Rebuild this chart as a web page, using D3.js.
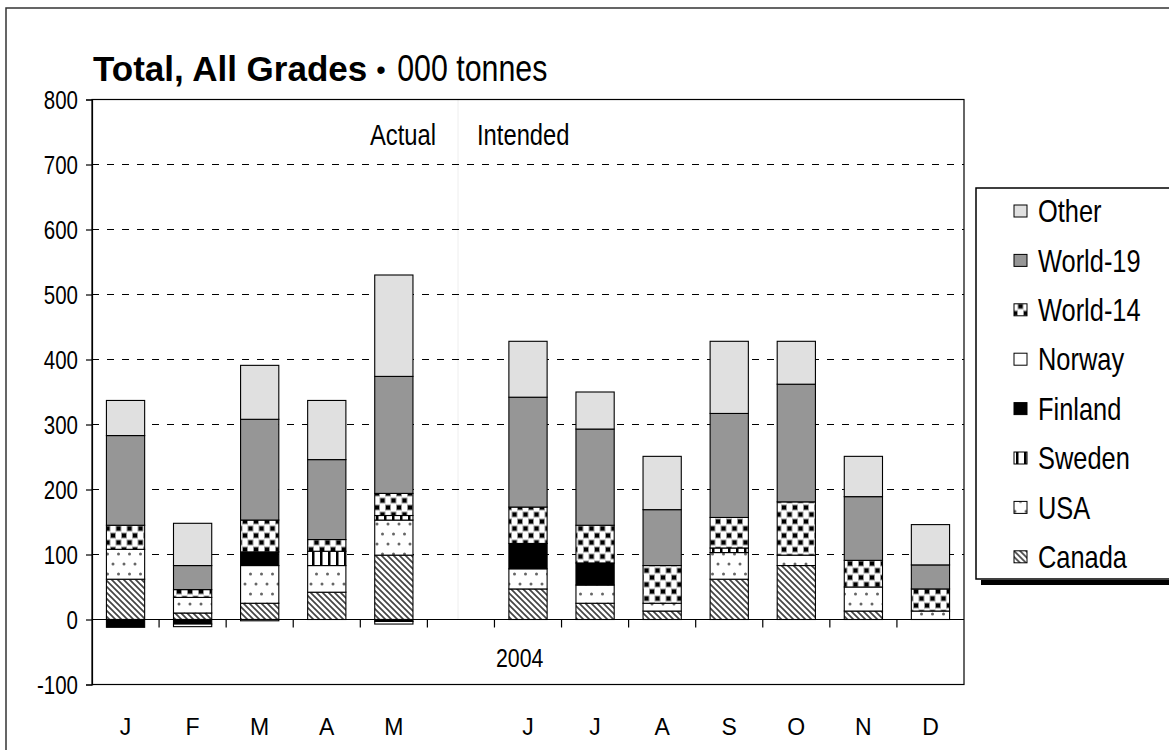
<!DOCTYPE html>
<html>
<head>
<meta charset="utf-8">
<script src="https://cdn.jsdelivr.net/npm/d3@7/dist/d3.min.js"></script>
<style>
  html, body { margin: 0; padding: 0; background: #fff; }
  svg { display: block; }
</style>
</head>
<body>
<svg id="chart" width="1169" height="750"></svg>
<script>
// ---- data ----
const months = ["J", "F", "M", "A", "M", "", "J", "J", "A", "S", "O", "N", "D"];
const seriesNames = ["Canada", "USA", "Sweden", "Finland", "Norway", "World-14", "World-19", "Other"];
const canada  = [62, 10, 25, 42, 99, 0, 47, 25, 13, 62, 83, 13, 0];
const usa     = [46, 24, 58, 41, 54, 0, 31, 28, 12, 41, 16, 37, 13];
const sweden  = [0, 0, 0, 22, 7, 0, 0, 0, 0, 7, 0, 0, 0];
const finland = [-12, -7, 21, 0, -3, 0, 39, 34, 0, 0, 0, 0, 0];
const norway  = [0, -4, -2, 0, -4, 0, 0, 0, 0, 0, 0, 0, 0];
const world14 = [37, 12, 49, 18, 34, 0, 56, 58, 58, 47, 82, 41, 34];
const world19 = [138, 37, 155, 123, 180, 0, 169, 148, 86, 160, 181, 98, 37];
const other   = [54, 65, 83, 91, 156, 0, 86, 57, 82, 111, 66, 62, 62];
const yTicks = [-100, 0, 100, 200, 300, 400, 500, 600, 700, 800];
const gridValues = [100, 200, 300, 400, 500, 600, 700];
const titleMain = "Total, All Grades";
const titleUnit = "000 tonnes";
const yearLabel = "2004";
const actualLabel = "Actual";
const intendedLabel = "Intended";

const seriesValues = [canada, usa, sweden, finland, norway, world14, world19, other];
const table = months.map((m, i) => {
  const row = { idx: i };
  seriesNames.forEach((s, k) => row[s] = seriesValues[k][i]);
  return row;
});

// ---- setup ----
const svg = d3.select("#chart");
const font = '"Liberation Sans", Arial, Helvetica, sans-serif';
const NARROW = 0.82;   // horizontal squeeze to mimic a condensed face

function narrowText(sel, px, py) {
  return sel.attr("font-family", font)
    .attr("transform", `translate(${px},${py}) scale(${NARROW},1)`);
}

const pLeft = 92, pRight = 964, pTop = 99.5, pBottom = 684.5;
const x = d3.scaleBand().domain(d3.range(months.length)).range([pLeft, pRight]).paddingInner(0).paddingOuter(0);
const y = d3.scaleLinear().domain([-100, 800]).range([pBottom, pTop]);
const barW = x.bandwidth() * 0.57;

// ---- patterns ----
const defs = svg.append("defs");
function pat(id, w, h, build) {
  const p = defs.append("pattern").attr("id", id).attr("patternUnits", "userSpaceOnUse")
    .attr("width", w).attr("height", h);
  p.append("rect").attr("width", w).attr("height", h).attr("fill", "#fff");
  build(p);
}
pat("p-canada", 6, 6, p => {
  p.append("path").attr("d", "M0,0 L6,6 M-1,5 L1,7 M5,-1 L7,1")
    .attr("stroke", "#444").attr("stroke-width", 1.7);
});
pat("p-usa", 11, 20, p => {
  p.append("circle").attr("cx", 3).attr("cy", 4).attr("r", 1.5).attr("fill", "#666");
  p.append("circle").attr("cx", 8.5).attr("cy", 14).attr("r", 1.5).attr("fill", "#666");
});
pat("p-sweden", 8, 8, p => {
  p.append("rect").attr("x", 0).attr("y", 0).attr("width", 2.5).attr("height", 8).attr("fill", "#000");
});
pat("p-w14", 11, 14, p => {
  p.append("rect").attr("x", 0).attr("y", 0.5).attr("width", 6).attr("height", 6).attr("fill", "#999");
  p.append("rect").attr("x", 5.5).attr("y", 7.5).attr("width", 6).attr("height", 6).attr("fill", "#999");
  p.append("rect").attr("x", -5.5).attr("y", 7.5).attr("width", 6).attr("height", 6).attr("fill", "#999");
  p.append("rect").attr("x", 1).attr("y", 1.5).attr("width", 4).attr("height", 4).attr("fill", "#000");
  p.append("rect").attr("x", 6.5).attr("y", 8.5).attr("width", 4).attr("height", 4).attr("fill", "#000");
});
const fills = {
  "Canada": "url(#p-canada)",
  "USA": "url(#p-usa)",
  "Sweden": "url(#p-sweden)",
  "Finland": "#000",
  "Norway": "#fff",
  "World-14": "url(#p-w14)",
  "World-19": "#969696",
  "Other": "#e0e0e0"
};

// ---- outer frame ----
svg.append("rect").attr("x", 6).attr("y", 8).attr("width", 1200).attr("height", 800)
  .attr("fill", "none").attr("stroke", "#333").attr("stroke-width", 1.5);

// ---- title ----
const tMain = svg.append("text").attr("x", 93).attr("y", 81)
  .attr("font-family", font).attr("font-weight", "bold").attr("font-size", 35)
  .text(titleMain);
const mainEnd = 93 + tMain.node().getComputedTextLength();
svg.append("text").attr("x", mainEnd + 9).attr("y", 79)
  .attr("font-family", font).attr("font-size", 27).text("\u2022");
narrowText(svg.append("text"), mainEnd + 30, 81).attr("font-size", 37).text(titleUnit);

// ---- plot background & grid ----
svg.append("rect").attr("x", pLeft).attr("y", pTop).attr("width", pRight - pLeft).attr("height", pBottom - pTop)
  .attr("fill", "#fff");
svg.append("line").attr("x1", 458).attr("x2", 458).attr("y1", pTop).attr("y2", y(0))
  .attr("stroke", "#eeeeee").attr("stroke-width", 1);
svg.append("g").selectAll("line").data(gridValues).join("line")
  .attr("x1", pLeft).attr("x2", pRight).attr("y1", d => y(d)).attr("y2", d => y(d))
  .attr("stroke", "#000").attr("stroke-width", 1.2).attr("stroke-dasharray", "7,8");

// ---- bars ----
const stack = d3.stack().keys(seriesNames).offset(d3.stackOffsetDiverging);
const stacked = stack(table);
const gBars = svg.append("g");
stacked.forEach(layer => {
  gBars.append("g").selectAll("rect")
    .data(layer.filter(d => d[1] !== d[0]))
    .join("rect")
    .attr("x", d => x(d.data.idx) + (x.bandwidth() - barW) / 2)
    .attr("width", barW)
    .attr("y", d => y(Math.max(d[0], d[1])))
    .attr("height", d => Math.abs(y(d[0]) - y(d[1])))
    .attr("fill", fills[layer.key])
    .attr("stroke", "#000").attr("stroke-width", 1.1);
});

// ---- zero line & x ticks ----
svg.append("line").attr("x1", pLeft).attr("x2", pRight).attr("y1", y(0)).attr("y2", y(0))
  .attr("stroke", "#000").attr("stroke-width", 1.2);
svg.append("g").selectAll("line").data(d3.range(1, months.length)).join("line")
  .attr("x1", d => x(d)).attr("x2", d => x(d)).attr("y1", y(0)).attr("y2", y(0) + 8)
  .attr("stroke", "#000").attr("stroke-width", 1.2);

// ---- frame ----
svg.append("rect").attr("x", pLeft).attr("y", pTop).attr("width", pRight - pLeft).attr("height", pBottom - pTop)
  .attr("fill", "none").attr("stroke", "#000").attr("stroke-width", 1.2);

// ---- y axis ----
const yAxis = svg.append("g").attr("transform", `translate(${pLeft},0)`)
  .call(d3.axisLeft(y).tickValues(yTicks).tickSize(6).tickPadding(8).tickFormat(d => String(d)));
yAxis.select(".domain").attr("stroke", "#000").attr("stroke-width", 1.2);
yAxis.selectAll(".tick line").attr("stroke", "#000").attr("stroke-width", 1.2);
yAxis.selectAll(".tick text")
  .attr("x", null).attr("dy", "0.36em")
  .attr("transform", `translate(-14,0) scale(${NARROW},1)`)
  .attr("font-family", font).attr("font-size", 25).attr("fill", "#000");

// ---- month labels ----
svg.append("g").selectAll("text").data(months.map((m, i) => ({ m, i }))).join("text")
  .attr("x", d => x(d.i) + x.bandwidth() / 2).attr("y", 735)
  .attr("text-anchor", "middle").attr("font-family", font).attr("font-size", 23)
  .text(d => d.m);

// ---- annotations ----
narrowText(svg.append("text"), 436, 145).attr("text-anchor", "end").attr("font-size", 29).text(actualLabel);
narrowText(svg.append("text"), 477, 145).attr("text-anchor", "start").attr("font-size", 29).text(intendedLabel);
narrowText(svg.append("text"), 496, 667).attr("font-size", 26).text(yearLabel);

// ---- legend ----
const lg = svg.append("g");
lg.append("rect").attr("x", 981).attr("y", 580).attr("width", 200).attr("height", 5).attr("fill", "#000");
lg.append("rect").attr("x", 976).attr("y", 188).attr("width", 210).attr("height", 391)
  .attr("fill", "#fff").attr("stroke", "#000").attr("stroke-width", 1.5);
const legendItems = seriesNames.slice().reverse();
const li = lg.selectAll("g.item").data(legendItems).join("g").attr("class", "item")
  .attr("transform", (d, i) => `translate(0,${211 + i * 49.4})`);
li.append("rect").attr("x", 1014).attr("y", -6).attr("width", 13).attr("height", 12)
  .attr("fill", d => fills[d]).attr("stroke", "#000").attr("stroke-width", 1);
li.append("text").attr("dy", "0.36em")
  .attr("transform", `translate(1038,0) scale(${NARROW},1)`)
  .attr("font-family", font).attr("font-size", 31).text(d => d);
</script>
</body>
</html>
